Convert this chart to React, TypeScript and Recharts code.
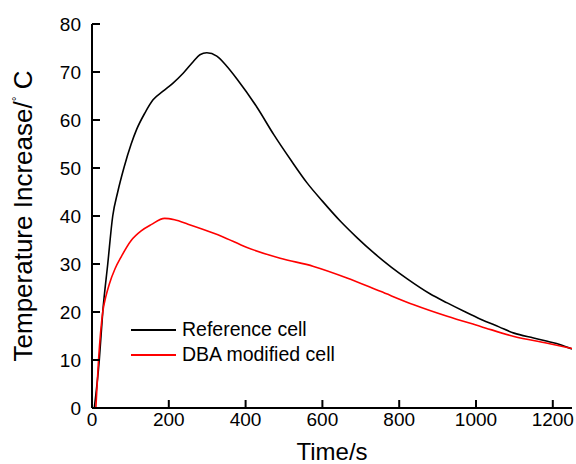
import { LineChart, Line, XAxis, YAxis } from "recharts"

// Reference cell
const refTime = [6, 19, 28, 41, 54, 67, 83, 102, 116, 138, 159, 185, 211, 238, 264, 281, 299, 325, 351, 377, 430, 473, 520, 560, 600, 647, 690, 734, 780, 821, 880, 925, 970, 1012, 1060, 1099, 1150, 1186, 1220, 1250]
const refTemp = [0, 10, 20, 30, 40, 45, 50, 55, 58, 61.5, 64.2, 66, 67.7, 69.8, 72.2, 73.6, 74, 73.3, 71.2, 68.6, 62.6, 57.0, 51.4, 46.9, 43.1, 38.9, 35.5, 32.3, 29.3, 26.9, 23.8, 21.9, 20.1, 18.5, 16.9, 15.6, 14.6, 13.9, 13.2, 12.3]

// DBA modified cell
const dbaTime = [10, 17, 28, 36, 45, 60, 76, 102, 128, 154, 189, 215, 250, 290, 337, 402, 490, 577, 664, 751, 838, 925, 1012, 1099, 1186, 1250]
const dbaTemp = [0, 10, 20, 23.2, 25.8, 29, 31.5, 34.9, 36.9, 38.2, 39.5, 39.2, 38.3, 37.2, 35.8, 33.5, 31.2, 29.5, 27.1, 24.3, 21.5, 19.1, 17.0, 14.9, 13.5, 12.4]

const xTicks = [0, 200, 400, 600, 800, 1000, 1200]
const yTicks = [0, 10, 20, 30, 40, 50, 60, 70, 80]

const seriesNames = ["Reference cell", "DBA modified cell"]
const seriesColors = ["#000000", "#ff0000"]

const refData = refTime.map((t, i) => ({ t, v: refTemp[i] }))
const dbaData = dbaTime.map((t, i) => ({ t, v: dbaTemp[i] }))

const font = "Arial, 'Liberation Sans', sans-serif"
const tickStyle = { fontSize: 19, fill: "#000", fontFamily: font }

const LegendBox = () => (
  <div style={{ position: "absolute", left: 131, top: 317, fontFamily: font, fontSize: 19.5, color: "#000" }}>
    {seriesNames.map((name, i) => (
      <div key={name} style={{ display: "flex", alignItems: "center", height: 25 }}>
        <div style={{ width: 45, height: 0, borderTop: `2px solid ${seriesColors[i]}`, marginRight: 6 }} />
        <span>{name}</span>
      </div>
    ))}
  </div>
)

const YLabel = (props: any) => {
  const vb = props.viewBox || {}
  const bx = 32
  const cy = (vb.y ?? 24) + (vb.height ?? 384) / 2
  return (
    <text x={bx} y={cy} transform={`rotate(-90, ${bx}, ${cy})`} textAnchor="middle"
      fontSize={26} fontFamily={font} fill="#000">
      Temperature Increase/<tspan fontSize={12} dy={-11}>°</tspan><tspan dy={11}> C</tspan>
    </text>
  )
}

export default function App() {
  return (
    <div style={{ position: "absolute", left: 0, top: 0, width: 576, height: 464, background: "#fff" }}>
      <LineChart width={576} height={464} margin={{ top: 24, right: 4, bottom: 0, left: 32 }}>
        <XAxis dataKey="t" type="number" domain={[0, 1250]} ticks={xTicks} allowDataOverflow
          height={56} stroke="#000" strokeWidth={2} tickSize={-8} tickMargin={13} tick={tickStyle}
          label={{ value: "Time/s", position: "insideBottom", offset: 4, fontSize: 24, fill: "#000", fontFamily: font }} />
        <XAxis xAxisId="top" orientation="top" type="number" domain={[0, 1250]} height={0}
          tick={false} tickLine={false} stroke="#000" strokeWidth={2} />
        <YAxis type="number" domain={[0, 80]} ticks={yTicks} width={60} stroke="#000" strokeWidth={2}
          tickSize={-8} tickMargin={19} tick={tickStyle} label={<YLabel />} />
        <YAxis yAxisId="right" orientation="right" type="number" domain={[0, 80]} width={0}
          tick={false} tickLine={false} stroke="#000" strokeWidth={2} />
        <Line data={refData} dataKey="v" name={seriesNames[0]} stroke={seriesColors[0]} strokeWidth={1.6}
          dot={false} type="monotone" isAnimationActive={false} />
        <Line data={dbaData} dataKey="v" name={seriesNames[1]} stroke={seriesColors[1]} strokeWidth={1.6}
          dot={false} type="monotone" isAnimationActive={false} />
      </LineChart>
      <LegendBox />
    </div>
  )
}
